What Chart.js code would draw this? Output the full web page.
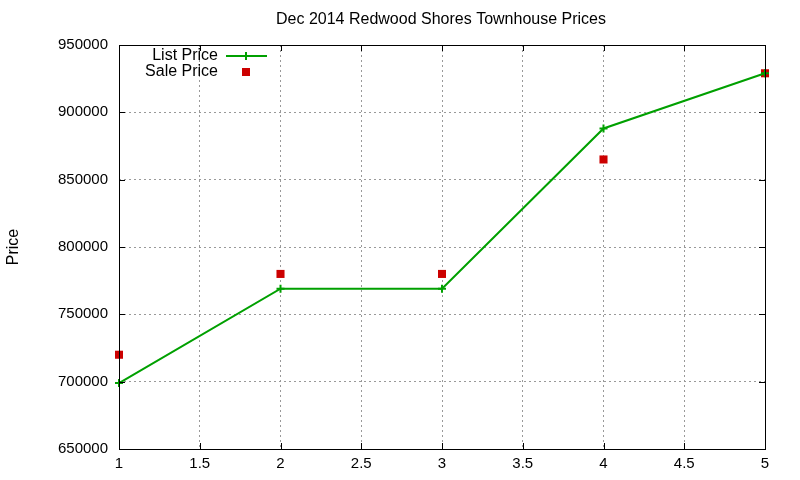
<!DOCTYPE html>
<html>
<head>
<meta charset="utf-8">
<script src="https://cdn.jsdelivr.net/npm/chart.js@4"></script>
<style>
  body { margin: 0; background: #fff; }
  #wrap { width: 800px; height: 480px; }
</style>
</head>
<body>
<div id="wrap"><canvas id="priceChart"></canvas></div>
<script>
// Datos del gráfico
const months = [1, 2, 3, 4, 5];
const listPrices = [699000, 769000, 769000, 888000, 929000];
const salePrices = [720000, 780000, 780000, 865000, 929000];
const xTicks = [1, 1.5, 2, 2.5, 3, 3.5, 4, 4.5, 5];
const yTicks = [650000, 700000, 750000, 800000, 850000, 900000, 950000];

const green = 'rgb(0,160,0)';
const red = 'rgb(204,0,0)';
const font = "'Liberation Sans', Arial, sans-serif";

// Título, marco y leyenda estilo gnuplot
const gnuplotLook = {
    id: 'gnuplotLook',
    afterDraw(chart) {
        const ctx = chart.ctx;
        const a = chart.chartArea;
        ctx.save();
        // marco negro
        ctx.strokeStyle = '#000';
        ctx.lineWidth = 1;
        ctx.strokeRect(a.left + 0.5, a.top + 0.5, a.right - a.left, a.bottom - a.top);

        // pequeñas marcas hacia dentro
        const xs = chart.scales.x, ys = chart.scales.y;
        ctx.beginPath();
        xTicks.forEach(v => {
            const px = Math.round(xs.getPixelForValue(v)) + 0.5;
            ctx.moveTo(px, a.bottom); ctx.lineTo(px, a.bottom - 6);
            ctx.moveTo(px, a.top); ctx.lineTo(px, a.top + 6);
        });
        yTicks.forEach(v => {
            const py = Math.round(ys.getPixelForValue(v)) + 0.5;
            ctx.moveTo(a.left, py); ctx.lineTo(a.left + 6, py);
            ctx.moveTo(a.right, py); ctx.lineTo(a.right - 6, py);
        });
        ctx.stroke();

        // título
        ctx.fillStyle = '#000';
        ctx.font = '16px ' + font;
        ctx.textAlign = 'center';
        ctx.textBaseline = 'middle';
        ctx.fillText('Dec 2014 Redwood Shores Townhouse Prices', 441, 20);

        // leyenda
        ctx.textAlign = 'right';
        const ds = chart.data.datasets;
        ctx.fillText(ds[0].label, 218, 56);
        ctx.fillText(ds[1].label, 218, 72);
        ctx.strokeStyle = green;
        ctx.lineWidth = 2;
        ctx.beginPath();
        ctx.moveTo(226, 56); ctx.lineTo(267, 56);
        ctx.moveTo(246, 52); ctx.lineTo(246, 60);
        ctx.stroke();
        ctx.fillStyle = red;
        ctx.fillRect(242, 68, 8, 8);
        ctx.restore();
    }
};

new Chart(document.getElementById('priceChart'), {
    type: 'scatter',
    data: {
        datasets: [{
            label: 'List Price',
            data: months.map((m, i) => ({ x: m, y: listPrices[i] })),
            showLine: true,
            clip: false,
            borderColor: green,
            backgroundColor: green,
            borderWidth: 2,
            pointStyle: 'cross',
            pointRadius: 4,
            pointBorderWidth: 2
        }, {
            label: 'Sale Price',
            data: months.map((m, i) => ({ x: m, y: salePrices[i] })),
            showLine: false,
            clip: false,
            borderColor: red,
            backgroundColor: red,
            pointStyle: 'rect',
            pointRadius: 5.7,
            pointBorderWidth: 0
        }]
    },
    options: {
        responsive: true,
        maintainAspectRatio: false,
        animation: false,
        layout: { padding: { left: 0, right: 35, top: 45, bottom: 0 } },
        plugins: {
            legend: { display: false },
            title: { display: false },
            tooltip: { enabled: false }
        },
        scales: {
            x: {
                type: 'linear',
                min: 1,
                max: 5,
                afterBuildTicks: s => { s.ticks = xTicks.map(v => ({ value: v })); },
                afterFit: s => { s.height = 31; },
                grid: { color: '#999', drawTicks: false, lineWidth: 1 },
                border: { display: false, dash: [2, 3] },
                ticks: { color: '#000', font: { size: 15, family: font }, padding: 6, maxRotation: 0, callback: v => String(v) }
            },
            y: {
                min: 650000,
                max: 950000,
                afterBuildTicks: s => { s.ticks = yTicks.map(v => ({ value: v })); },
                afterFit: s => { s.width = 119; },
                grid: { color: '#999', drawTicks: false, lineWidth: 1 },
                border: { display: false, dash: [2, 3] },
                title: { display: true, text: 'Price', color: '#000', font: { size: 16, family: font }, padding: { top: 4, bottom: 20 } },
                ticks: { color: '#000', font: { size: 15, family: font }, padding: 11, callback: v => String(v) }
            }
        }
    },
    plugins: [gnuplotLook]
});
</script>
</body>
</html>
